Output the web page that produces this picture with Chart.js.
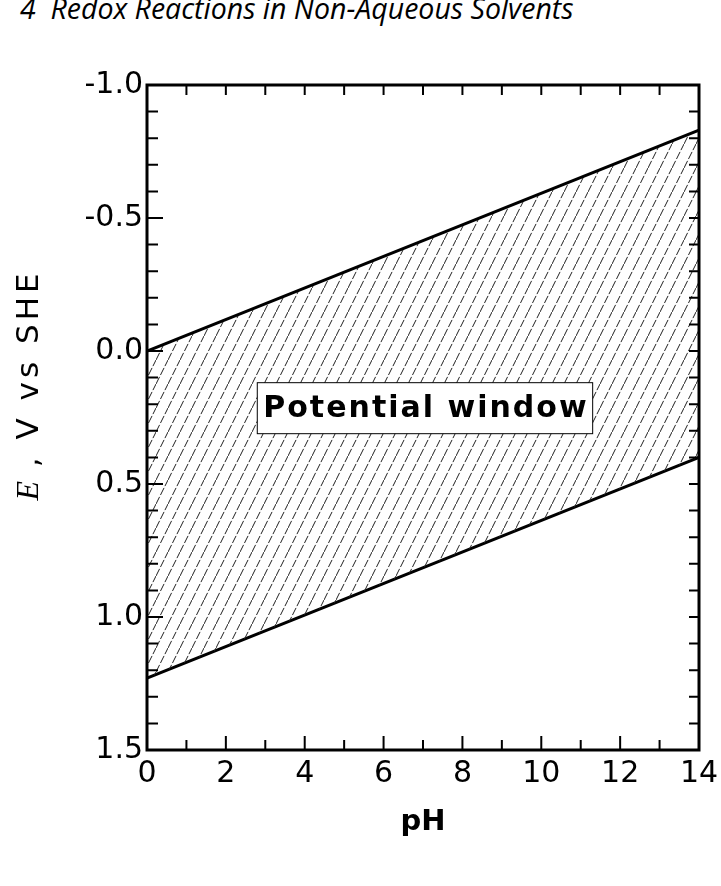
<!DOCTYPE html>
<html>
<head>
<meta charset="utf-8">
<script src="https://cdn.jsdelivr.net/npm/chart.js@4.4.1/dist/chart.umd.min.js"></script>
<style>
  html, body { margin: 0; padding: 0; background: #fff; }
  #wrap { position: relative; width: 721px; height: 886px; overflow: hidden; }
  #header {
    position: absolute; left: 20px; top: -11px;
    font-family: "Open Sans", sans-serif; font-style: italic; font-size: 28.5px;
    line-height: 38px; color: #000; white-space: pre;
  }
  canvas { position: absolute; left: 0; top: 0; }
</style>
</head>
<body>
<div id="wrap">
  <div id="header">4  Redox Reactions in Non-Aqueous Solvents</div>
  <canvas id="potencialChart" width="721" height="886"></canvas>
</div>
<script>
// datos
const pH = [0, 14];
const limiteSuperior = [0.0, -0.83];   // linea de arriba (E en V)
const limiteInferior = [1.23, 0.40];   // linea de abajo
const xTicks = [0, 2, 4, 6, 8, 10, 12, 14];
const xTickLabels = ['0', '2', '4', '6', '8', '10', '12', '14'];
const yTicks = [-1, -0.5, 0, 0.5, 1, 1.5];
const yTickLabels = ['-1.0', '-0.5', '0.0', '0.5', '1.0', '1.5'];
const etiqueta = 'Potential window';
const etiquetaEn = { x: 7.05, y: 0.215 };

function etiquetaDe(valores, textos, v) {
    let mejor = 0;
    valores.forEach((t, i) => {
        if (Math.abs(t - v) < Math.abs(valores[mejor] - v)) mejor = i;
    });
    return textos[mejor];
}

// patron rayado para la zona entre las dos lineas
function crearRayado() {
    const c = document.createElement('canvas');
    c.width = 12;
    c.height = 24;
    const g = c.getContext('2d');
    g.strokeStyle = '#222';
    g.lineWidth = 1;
    g.setLineDash([8, 2]);
    g.beginPath();
    g.moveTo(0, 24);
    g.lineTo(12, 0);
    g.stroke();
    return g.createPattern(c, 'repeat');
}

const ctx = document.getElementById('potencialChart').getContext('2d');

// ticks hacia dentro, marco, caja de texto y titulo del eje y
const extras = {
    id: 'extras',
    afterDatasetsDraw(chart) {
        const { ctx, chartArea: a, scales: { x, y } } = chart;
        ctx.save();
        ctx.strokeStyle = '#000';
        ctx.lineWidth = 2;
        ctx.beginPath();
        for (let i = 0; i <= 14; i++) {
            const px = x.getPixelForValue(i);
            const largo = i % 2 === 0 ? 14 : 10;
            ctx.moveTo(px, a.bottom);
            ctx.lineTo(px, a.bottom - largo);
            ctx.moveTo(px, a.top);
            ctx.lineTo(px, a.top + 10);
        }
        for (let i = 0; i <= 25; i++) {
            const v = -1 + i * 0.1;
            const py = y.getPixelForValue(v);
            const largo = i % 5 === 0 ? 16 : 11;
            ctx.moveTo(a.left, py);
            ctx.lineTo(a.left + largo, py);
            ctx.moveTo(a.right, py);
            ctx.lineTo(a.right - 10, py);
        }
        ctx.stroke();

        ctx.lineWidth = 3;
        ctx.strokeRect(a.left, a.top, a.right - a.left, a.bottom - a.top);

        // caja "Potential window"
        const cx = x.getPixelForValue(etiquetaEn.x);
        const cy = y.getPixelForValue(etiquetaEn.y);
        ctx.font = 'bold 30px "DejaVu Sans"';
        ctx.letterSpacing = '2px';
        const w = ctx.measureText(etiqueta).width + 10;
        const h = 51;
        ctx.fillStyle = '#fff';
        ctx.fillRect(cx - w / 2, cy - h / 2, w, h);
        ctx.lineWidth = 1;
        ctx.strokeRect(cx - w / 2, cy - h / 2, w, h);
        ctx.fillStyle = '#000';
        ctx.textAlign = 'center';
        ctx.textBaseline = 'middle';
        ctx.fillText(etiqueta, cx + 1, cy + 1);
        ctx.restore();

        // titulo del eje y: "E , V vs SHE"
        ctx.save();
        ctx.translate(30, 385);
        ctx.rotate(-Math.PI / 2);
        ctx.fillStyle = '#000';
        ctx.textBaseline = 'middle';
        ctx.textAlign = 'left';
        const fE = 'italic 32px "Liberation Serif"';
        const fR = '31px "DejaVu Sans"';
        ctx.font = fE;
        const wE = ctx.measureText('E').width;
        ctx.font = fR;
        ctx.letterSpacing = '4px';
        const resto = ' , V vs SHE';
        const wR = ctx.measureText(resto).width;
        let px = -(wE + wR) / 2;
        ctx.letterSpacing = '0px';
        ctx.font = fE;
        ctx.fillText('E', px, 0);
        px += wE;
        ctx.font = fR;
        ctx.letterSpacing = '4px';
        ctx.fillText(resto, px, 0);
        ctx.restore();
    }
};

new Chart(ctx, {
    type: 'line',
    data: {
        datasets: [{
            label: 'superior',
            data: pH.map((v, i) => ({ x: v, y: limiteSuperior[i] })),
            borderColor: '#000',
            borderWidth: 3,
            pointRadius: 0,
            fill: '+1',
            backgroundColor: crearRayado()
        }, {
            label: 'inferior',
            data: pH.map((v, i) => ({ x: v, y: limiteInferior[i] })),
            borderColor: '#000',
            borderWidth: 3,
            pointRadius: 0,
            fill: false
        }]
    },
    options: {
        responsive: false,
        animation: false,
        devicePixelRatio: 1,
        layout: { padding: { top: 85, right: 22, left: 0, bottom: 0 } },
        plugins: {
            legend: { display: false },
            tooltip: { enabled: false }
        },
        scales: {
            x: {
                type: 'linear',
                min: 0,
                max: 14,
                grid: { display: false, drawTicks: false },
                border: { display: false },
                ticks: {
                    stepSize: 2,
                    padding: 6,
                    color: '#000',
                    font: { family: 'DejaVu Sans', size: 30 },
                    callback: (v) => etiquetaDe(xTicks, xTickLabels, v)
                },
                title: {
                    display: true,
                    text: 'pH',
                    color: '#000',
                    font: { family: 'DejaVu Sans', size: 29, weight: 'bold' },
                    padding: { top: 0, bottom: 46 }
                },
                afterFit: (scale) => {
                    scale.height = 136;
                    scale.paddingLeft = 0;
                    scale.paddingRight = 0;
                }
            },
            y: {
                type: 'linear',
                min: -1,
                max: 1.5,
                reverse: true,
                grid: { display: false, drawTicks: false },
                border: { display: false },
                ticks: {
                    stepSize: 0.5,
                    padding: 4,
                    color: '#000',
                    font: { family: 'DejaVu Sans', size: 30 },
                    callback: (v) => etiquetaDe(yTicks, yTickLabels, v)
                },
                afterFit: (scale) => { scale.width = 147; }
            }
        }
    },
    plugins: [extras]
});
</script>
</body>
</html>
